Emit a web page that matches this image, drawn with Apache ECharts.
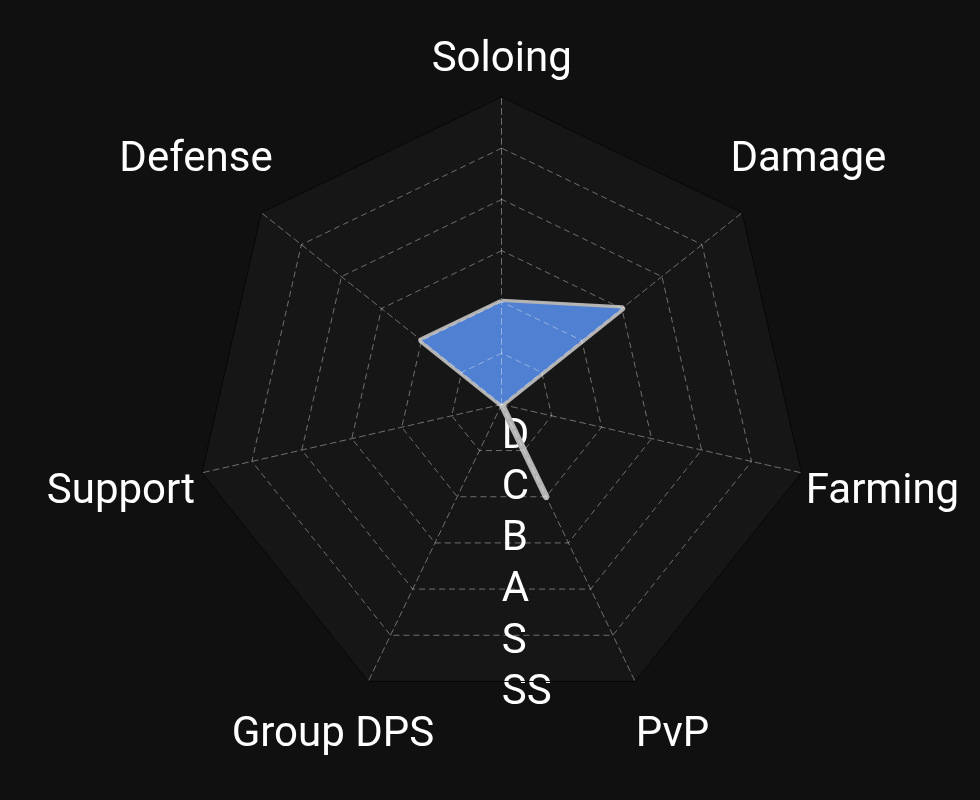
<!DOCTYPE html>
<html><head><meta charset="utf-8">
<script src="https://cdn.jsdelivr.net/npm/echarts@6/dist/echarts.min.js"></script>
<style>html,body{margin:0;padding:0;background:#101010}#c{width:980px;height:800px}</style>
</head><body><div id="c"></div>
<script>
// Indicators in ECharts order (counter-clockwise from top)
const indicators = ['Soloing', 'Defense', 'Support', 'Group DPS', 'PvP', 'Farming', 'Damage'];
const values = [2, 2, 0, 0, 2, 0, 3];
const gradeLabels = ['D', 'C', 'B', 'A', 'S', 'SS'];
const maxValue = 6;

const CENTER = [501.7, 404.4];
const RADIUS = 307.5;
const FONT = 'Roboto';
const GRID = 'rgba(255,255,255,0.38)';

// per-name nudges (pixels) of the label centre from the default anchor
const nameShift = {
  'Soloing': [0, 4],
  'Defense': [-34, -27],
  'Support': [-42, 11],
  'Group DPS': [-18, 18],
  'PvP': [20, 18],
  'Farming': [42, 11],
  'Damage': [35, -27]
};

const ind = indicators.map(n => ({ name: n, min: 0, max: maxValue }));

const rich = {};
indicators.forEach((n, i) => {
  const s = nameShift[n];
  const dx = s[0], dy = s[1];
  rich['n' + i] = {
    color: '#ffffff', fontSize: 42, fontFamily: FONT,
    padding: [dy > 0 ? 2 * dy : 0, dx < 0 ? -2 * dx : 0, dy < 0 ? -2 * dy : 0, dx > 0 ? 2 * dx : 0]
  };
});

const chart = echarts.init(document.getElementById('c'), null, { renderer: 'canvas' });
chart.setOption({
  backgroundColor: '#101010',
  animation: false,
  radar: [
    { // background fill
      indicator: ind, center: CENTER, radius: RADIUS, splitNumber: 6, z: 0,
      axisName: { show: false },
      axisLine: { show: false }, axisTick: { show: false }, axisLabel: { show: false },
      splitLine: { show: false },
      splitArea: { show: true, areaStyle: { color: ['#161616'] } }
    },
    { // grid lines & names
      indicator: ind, center: CENTER, radius: RADIUS, splitNumber: 6, z: 3,
      nameGap: 40,
      axisName: {
        color: '#ffffff', fontSize: 42, fontFamily: FONT, align: 'center', verticalAlign: 'middle',
        formatter: function (name) { return '{n' + indicators.indexOf(name) + '|' + name + '}'; },
        rich: rich
      },
      axisLine: { show: true, lineStyle: { color: GRID, type: [6, 4], width: 1 } },
      splitLine: { show: true, lineStyle: { color: [GRID, GRID, GRID, GRID, GRID, GRID, 'rgba(0,0,0,0)'], type: [6, 4], width: 1 } },
      splitArea: { show: false }
    },
    { // outer border
      indicator: ind, center: CENTER, radius: RADIUS, splitNumber: 1, z: 3,
      axisName: { show: false },
      axisLine: { show: false },
      splitLine: { show: true, lineStyle: { color: '#070707', width: 1 } },
      splitArea: { show: false }
    }
  ],
  polar: { center: CENTER, radius: RADIUS },
  angleAxis: { type: 'value', min: 0, max: 1, startAngle: 270, show: false },
  radiusAxis: {
    type: 'category', data: gradeLabels, z: 1,
    axisLine: { show: false }, axisTick: { show: false }, splitLine: { show: false },
    axisLabel: { show: true, interval: 0, margin: 0, align: 'left', verticalAlign: 'middle',
      formatter: function (v) { return '{g|' + v + '}'; },
      rich: { g: { color: '#ffffff', fontSize: 42, fontFamily: FONT, padding: [14, 0, 0, 0] } } }
  },
  series: [{
    type: 'radar', radarIndex: 0, z: 2,
    symbol: 'none',
    lineStyle: { color: '#b3b3b3', width: 6.5 },
    areaStyle: { color: '#5080d2', opacity: 1 },
    data: [{ value: values }]
  }]
});
</script></body></html>
